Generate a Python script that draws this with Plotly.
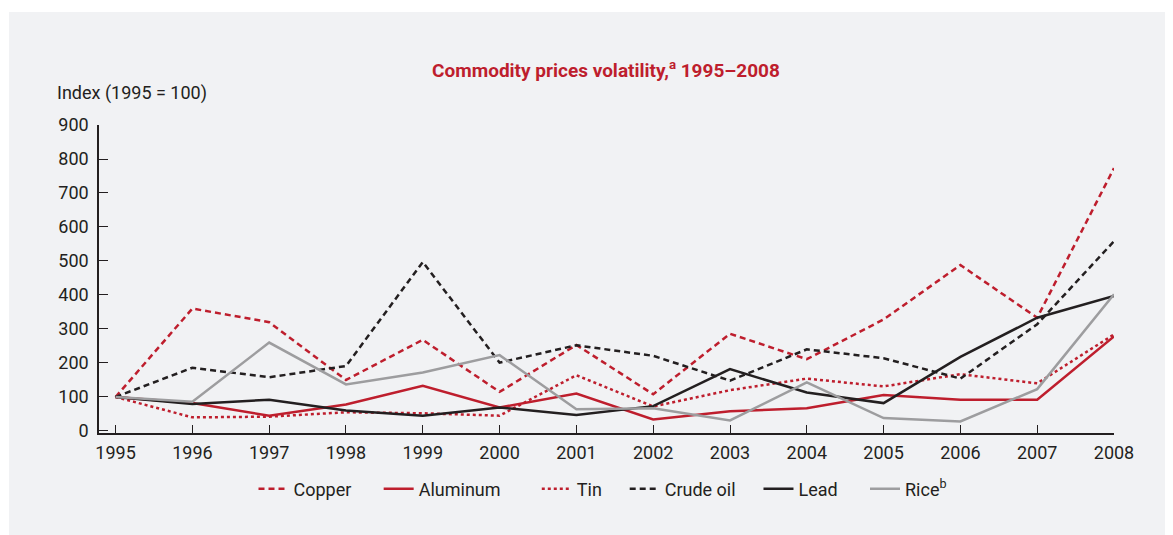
import plotly.graph_objects as go

years = list(range(1995, 2009))

copper = [100, 360, 320, 150, 268, 115, 253, 108, 286, 211, 328, 488, 333, 773]
aluminum = [100, 82, 45, 78, 133, 69, 110, 34, 58, 67, 106, 92, 92, 278]
tin = [100, 40, 42, 55, 52, 45, 164, 72, 120, 154, 131, 167, 140, 284]
crude_oil = [100, 186, 158, 191, 497, 201, 252, 221, 148, 240, 214, 154, 314, 558]
lead = [100, 79, 92, 60, 45, 69, 47, 73, 182, 113, 82, 218, 333, 397]
rice = [100, 86, 260, 137, 172, 223, 64, 67, 31, 143, 38, 28, 123, 402]

y_ticks = [0, 100, 200, 300, 400, 500, 600, 700, 800, 900]

RED = "#be1e2d"
BLACK = "#231f20"
GREY = "#9d9d9f"
BG = "#f1f2f4"
FONT = "Roboto, sans-serif"

NB = "\u00a0"
# trailing spaces only widen the legend gaps to match the original
series = [
    ("Copper" + NB * 5, copper, RED, "6px,4px"),
    ("Aluminum" + NB * 7, aluminum, RED, "solid"),
    ("Tin" + NB * 4, tin, RED, "dot"),
    ("Crude oil" + NB * 4, crude_oil, BLACK, "6px,4px"),
    ("Lead" + NB * 5, lead, BLACK, "solid"),
    ("Rice<sup>b</sup>", rice, GREY, "solid"),
]

fig = go.Figure()
for name, vals, color, dash in series:
    fig.add_trace(
        go.Scatter(
            x=years,
            y=vals,
            name=name,
            mode="lines",
            line=dict(color=color, width=2.5, dash=dash),
        )
    )

# page body has an 8px margin, so everything is placed 8px up/left
W, H = 1165, 527
ml, mr, mt, mb = 91, 59, 117, 102
pw, ph = W - ml - mr, H - mt - mb

# grey panel behind the chart (thin white strip top/left)
fig.add_shape(
    type="rect",
    xref="paper", yref="paper",
    x0=(1 - ml) / pw, x1=(W - ml) / pw,
    y0=-mb / ph, y1=(H - 4 - mb) / ph,
    fillcolor=BG, line_width=0, layer="below",
)

fig.update_layout(
    width=W,
    height=H,
    margin=dict(l=ml, r=mr, t=mt, b=mb),
    paper_bgcolor="white",
    plot_bgcolor="rgba(0,0,0,0)",
    font=dict(family=FONT, size=18, color=BLACK),
    title=dict(
        text="<b>Commodity prices volatility,<sup>a</sup> 1995–2008</b>",
        x=(598 - ml) / pw,
        xref="paper",
        xanchor="center",
        y=1 - 62 / H,
        yanchor="middle",
        font=dict(family=FONT, size=19, color=RED),
    ),
    xaxis=dict(
        range=[1994.784, 2008.0],
        tickmode="array",
        tickvals=years,
        ticks="inside",
        ticklen=8,
        tickcolor=BLACK,
        ticklabelstandoff=3,
        showline=True,
        linecolor=BLACK,
        linewidth=1.5,
        showgrid=False,
        zeroline=False,
        tickfont=dict(size=18, color=BLACK),
    ),
    yaxis=dict(
        range=[-6, 900],
        tickmode="array",
        tickvals=y_ticks,
        ticks="inside",
        ticklen=9,
        tickcolor=BLACK,
        ticklabelstandoff=5,
        showline=True,
        linecolor=BLACK,
        linewidth=1.5,
        showgrid=False,
        zeroline=False,
        tickfont=dict(size=18, color=BLACK),
    ),
    legend=dict(
        orientation="h",
        x=(595 - ml) / pw,
        xanchor="center",
        y=-(481 - (H - mb)) / ph,
        yanchor="middle",
        font=dict(size=18, color=BLACK),
        bgcolor="rgba(0,0,0,0)",
        itemwidth=30,
    ),
    annotations=[
        dict(
            text="Index (1995 = 100)",
            xref="paper", yref="paper",
            x=(47 - ml) / pw, y=(H - 85 - mb) / ph,
            xanchor="left", yanchor="middle",
            showarrow=False,
            font=dict(size=18, color=BLACK),
        )
    ],
)

fig.write_html("out.html")
